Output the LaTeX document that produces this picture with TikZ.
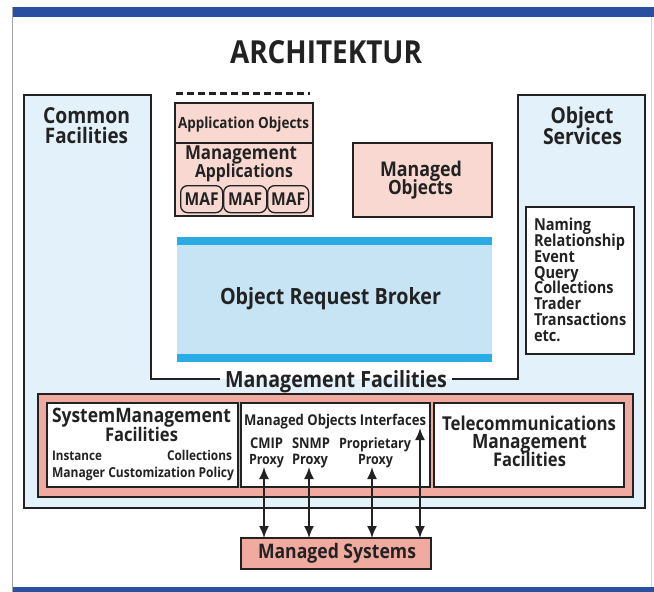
\documentclass[tikz,border=0pt]{standalone}
\usepackage{fontspec}
\setmainfont{Open Sans}[FakeStretch=0.88]
\usetikzlibrary{arrows.meta}
\definecolor{pinkF}{HTML}{F0AAA0}
\definecolor{pinkL}{HTML}{F8D8D0}
\definecolor{blueL}{HTML}{E3F1FA}
\definecolor{orbF}{HTML}{C6E4F4}
\definecolor{orbB}{HTML}{2AABE3}
\definecolor{barB}{HTML}{2A4FA0}
\definecolor{inkK}{HTML}{222222}
\newlength\fitlen
\newcommand\fit[2]{\settowidth\fitlen{\fontsize{10pt}{12pt}\selectfont #2}\pgfmathsetmacro\fitfs{10*#1/\fitlen}\fontsize{\fitfs pt}{\fitfs pt}\selectfont #2}
\newcommand\listsize{\settowidth\fitlen{\bfseries\fontsize{10pt}{12pt}\selectfont Relationship}\pgfmathsetmacro\fitfs{10*91/\fitlen}\fontsize{\fitfs pt}{\fitfs pt}\selectfont}
\begin{document}
\begin{tikzpicture}[x=1pt,y=-1pt,
  box/.style={draw=inkK, line width=1.8pt, anchor=north west, inner sep=0pt, outer sep=0pt},
  band/.style={fill=orbB, anchor=north west, inner sep=0pt, outer sep=0pt, minimum width=315pt, minimum height=7.5pt},
  maf/.style={draw=inkK, line width=1.3pt, rounded corners=7pt, fill=pinkL, anchor=north west, inner sep=0pt, minimum height=27pt},
  txt/.style={text=inkK, inner sep=0pt, outer sep=0pt, font=\bfseries, anchor=base},
  dbl/.style={draw=inkK, line width=1.8pt, {Latex[length=12pt,width=10pt]}-{Latex[length=12pt,width=10pt]}}]
\useasboundingbox (0,0) rectangle (654,592);
\fill[white] (0,0) rectangle (654,592);
% page frame
\fill[barB] (12,7) rectangle (654,17);
\fill[barB] (12,587) rectangle (654,592);
\draw[gray!70, line width=0.8pt] (12,7) -- (12,592);
\draw[gray!35, line width=0.8pt] (651,17) -- (651,587);
% title
\node[txt] (title) at (326,63) {\fit{192}{ARCHITEKTUR}};
% outer frame
\fill[blueL] (24,95) -- (151,95) -- (151,379) -- (518,379) -- (518,95) -- (645,95) -- (645,508) -- (24,508) -- cycle;
\node[txt] (mf) at (336,387) {\fit{222}{Management Facilities}};
\draw[inkK, line width=1.8pt] ([xshift=-5pt]mf.west |- 0,379) -- (151,379) -- (151,95) -- (24,95) -- (24,508) -- (645,508) -- (645,95) -- (518,95) -- (518,379) -- ([xshift=5pt]mf.east |- 0,379);
% common facilities / object services
\node[txt] (cf1) at (86.5,123) {\fit{87}{Common}};
\node[txt] (cf2) at (86.5,143) {\fit{83}{Facilities}};
\node[txt] (os1) at (582,123) {\fit{63}{Object}};
\node[txt] (os2) at (582.5,144) {\fit{79}{Services}};
% object services list
\node[box, fill=white, minimum width=108pt, minimum height=147pt] (oslist) at (526,207) {};
\foreach \t/\y/\n in {Naming/230/l1, Relationship/246/l2, Event/262/l3, Query/278/l4, Collections/293/l5, Trader/309/l6, Transactions/325/l7, etc./341/l8}
  \node[txt, anchor=base west, font=\bfseries\listsize] (\n) at (534,\y) {\t};
% application stack
\draw[inkK, line width=3pt, dash pattern=on 7pt off 4pt] (176,93) -- (310,93);
\node[box, fill=pinkL, minimum width=138pt, minimum height=40pt] (app) at (175,103) {};
\node[box, fill=pinkL, minimum width=138pt, minimum height=73pt] (mapp) at (175,143) {};
\node[txt] (appt) at (243.5,128) {\fit{131}{Application Objects}};
\node[txt] (ma1) at (241,159) {\fit{112}{Management}};
\node[txt] (ma2) at (244,177) {\fit{98}{Applications}};
\node[maf, minimum width=42pt] (maf1) at (180,185) {};
\node[maf, minimum width=43pt] (maf2) at (223,185) {};
\node[maf, minimum width=41pt] (maf3) at (267,185) {};
\node[txt] at ([yshift=-6.5pt]maf1.center) (mt1) {\fit{34}{MAF}};
\node[txt] at ([yshift=-6.5pt]maf2.center) (mt2) {\fit{34}{MAF}};
\node[txt] at ([yshift=-6.5pt]maf3.center) (mt3) {\fit{34}{MAF}};
% managed objects
\node[box, fill=pinkL, minimum width=139pt, minimum height=74pt] (mo) at (353,143) {};
\node[txt] (mo1) at (421,176) {\fit{82}{Managed}};
\node[txt] (mo2) at (420.5,194) {\fit{65}{Objects}};
% ORB
\node[fill=orbF, anchor=north west, inner sep=0pt, minimum width=315pt, minimum height=125pt] (orb) at (177,237) {};
\node[band] (orbt) at (177,237) {};
\node[band] (orbb) at (177,354) {};
\node[txt] (orbtx) at (330.5,304) {\fit{221}{Object Request Broker}};
% management facilities band
\node[box, fill=pinkF, minimum width=595pt, minimum height=103pt] (mfb) at (38,394) {};
\node[box, fill=white, minimum width=191pt, minimum height=84pt] (smf) at (47,403) {};
\node[box, fill=white, minimum width=189pt, minimum height=84pt] (moi) at (241,403) {};
\node[box, fill=white, minimum width=190pt, minimum height=84pt] (tmf) at (434,403) {};
\node[txt] (s1) at (141.5,422) {\fit{179}{SystemManagement}};
\node[txt] (s2) at (141.5,441) {\fit{73}{Facilities}};
\node[txt, anchor=base west] (s3) at (52,460) {\fit{50}{Instance}};
\node[txt, anchor=base east] (s4) at (232,460) {\fit{65}{Collections}};
\node[txt, anchor=base west] (s5) at (52,477) {\fit{182}{Manager Customization Policy}};
\node[txt] (m1) at (335,425) {\fit{182}{Managed Objects Interfaces}};
\node[txt] (m2) at (266.5,448) {\fit{33}{CMIP}};
\node[txt] (m3) at (311,448) {\fit{38}{SNMP}};
\node[txt] (m4) at (375,448) {\fit{72}{Proprietary}};
\node[txt] (m5) at (266.5,464) {\fit{35}{Proxy}};
\node[txt] (m6) at (310,464) {\fit{36}{Proxy}};
\node[txt] (m7) at (375.5,464) {\fit{35}{Proxy}};
\node[txt] (t1) at (529,430) {\fit{174}{Telecommunications}};
\node[txt] (t2) at (529.5,448) {\fit{115}{Management}};
\node[txt] (t3) at (529.5,466) {\fit{73}{Facilities}};
% managed systems
\node[box, fill=pinkF, minimum width=190pt, minimum height=31pt] (ms) at (241,538) {};
\node[txt] (mst) at (337,558) {\fit{158}{Managed Systems}};
% arrows
\coordinate (a1) at (264,467);
\coordinate (a2) at (309,467);
\coordinate (a3) at (372,467);
\coordinate (a4) at (420,428);
\draw[dbl] (a1) -- (a1 |- ms.north);
\draw[dbl] (a2) -- (a2 |- ms.north);
\draw[dbl] (a3) -- (a3 |- ms.north);
\draw[dbl] (a4) -- (a4 |- ms.north);
\end{tikzpicture}
\end{document}
